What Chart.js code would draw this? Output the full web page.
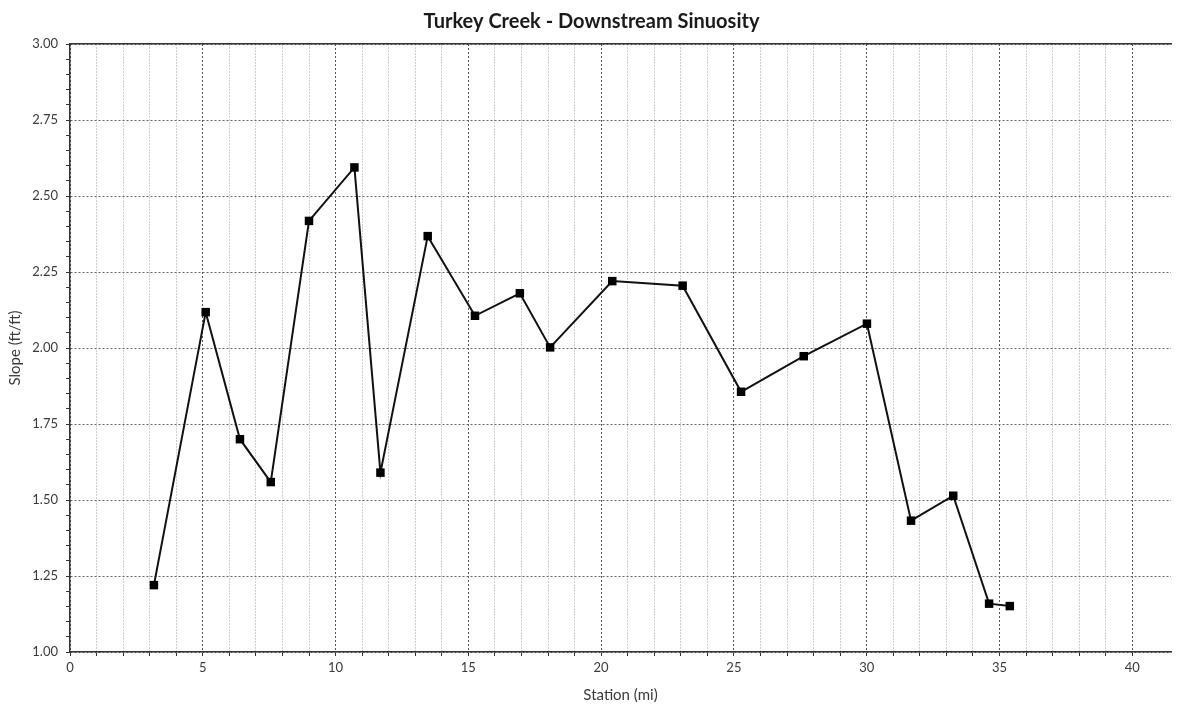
<!DOCTYPE html>
<html>
<head>
<meta charset="utf-8">
<script src="https://cdn.jsdelivr.net/npm/chart.js@4.4.1/dist/chart.umd.min.js"></script>
<style>
  html, body { margin: 0; padding: 0; background: #ffffff; }
  #wrap { width: 1177px; height: 704px; }
</style>
</head>
<body>
<div id="wrap"><canvas id="c" width="1177" height="704"></canvas></div>
<script>
// ---- data ----
const chartTitle = 'Turkey Creek - Downstream Sinuosity';
const xAxisTitle = 'Station (mi)';
const yAxisTitle = 'Slope (ft/ft)';
const stations = [3.16, 5.11, 6.40, 7.56, 9.00, 10.71, 11.69, 13.47, 15.25, 16.94, 18.08, 20.42, 23.07, 25.27, 27.63, 30.01, 31.67, 33.26, 34.61, 35.39];
const slopes   = [1.22, 2.118, 1.70, 1.559, 2.418, 2.594, 1.59, 2.368, 2.106, 2.18, 2.002, 2.22, 2.205, 1.856, 1.973, 2.08, 1.432, 1.514, 1.159, 1.151];
const xMin = 0, xMax = 41.46, xStep = 1, xLabelEvery = 5;
const yMin = 1, yMax = 3, yStep = 0.05, yLabelEvery = 0.25;

const points = stations.map((s, i) => ({ x: s, y: slopes[i] }));
const fontFam = 'Lato, "Open Sans", sans-serif';

const isInt = v => Math.abs(v - Math.round(v)) < 1e-6;
const isMajorX = v => isInt(v) && Math.round(v) % xLabelEvery === 0;
const isMajorY = v => Math.round(v * 100) % Math.round(yLabelEvery * 100) === 0;

new Chart(document.getElementById('c'), {
  type: 'scatter',
  data: {
    datasets: [{
      data: points,
      showLine: true,
      borderColor: '#111111',
      borderWidth: 2,
      backgroundColor: '#000000',
      pointStyle: 'rect',
      pointRadius: 6,
      pointHoverRadius: 6,
      pointBorderWidth: 0,
      tension: 0
    }]
  },
  options: {
    responsive: false,
    animation: false,
    devicePixelRatio: 1,
    layout: { padding: { left: 6, right: 0, top: 0, bottom: 0 } },
    plugins: {
      legend: { display: false },
      tooltip: { enabled: false },
      title: {
        display: true,
        text: chartTitle,
        color: '#1a1a1a',
        font: { family: fontFam, size: 20, weight: 'bold' },
        padding: { top: 10, bottom: 0 }
      }
    },
    scales: {
      x: {
        type: 'linear',
        position: 'bottom',
        min: xMin, max: xMax,
        afterFit: s => { s.height = 52; },
        ticks: {
          stepSize: xStep,
          autoSkip: false,
          maxRotation: 0,
          padding: 4,
          color: '#3a3a3a',
          font: { family: fontFam, size: 13 },
          callback: v => isMajorX(v) ? String(Math.round(v)) : ''
        },
        grid: {
          color: c => !isInt(c.tick.value) ? 'rgba(0,0,0,0)' : (isMajorX(c.tick.value) ? '#555' : '#cfcfcf'),
          lineWidth: 1,
          tickLength: 4,
          tickColor: c => isInt(c.tick.value) ? '#333' : 'rgba(0,0,0,0)'
        },
        border: {
          display: true, color: '#333', width: 1.5,
          dash: c => (c.tick && isMajorX(c.tick.value)) ? [2, 2] : [2, 1]
        },
        title: {
          display: true, text: xAxisTitle, color: '#3a3a3a',
          font: { family: fontFam, size: 15 }, padding: { top: 1, bottom: 0 }
        }
      },
      x2: {
        type: 'linear',
        position: 'top',
        min: xMin, max: xMax,
        afterFit: s => { s.height = 10; },
        ticks: { display: false },
        grid: { drawOnChartArea: false, drawTicks: false },
        border: { display: true, color: '#333', width: 1.5 }
      },
      y: {
        type: 'linear',
        min: yMin, max: yMax,
        afterFit: s => { s.width = 64; },
        ticks: {
          stepSize: yStep,
          autoSkip: false,
          padding: 8,
          color: '#3a3a3a',
          font: { family: fontFam, size: 13 },
          callback: v => isMajorY(v) ? v.toFixed(2) : ''
        },
        grid: {
          color: c => isMajorY(c.tick.value) ? '#666' : 'rgba(0,0,0,0)',
          lineWidth: 1,
          tickLength: 4,
          tickColor: '#333'
        },
        border: { display: true, color: '#333', width: 1.5, dash: [2, 2] },
        title: {
          display: true, text: yAxisTitle, color: '#3a3a3a',
          font: { family: fontFam, size: 15 }, padding: { top: 0, bottom: 2 }
        }
      }
    }
  }
});
</script>
</body>
</html>
